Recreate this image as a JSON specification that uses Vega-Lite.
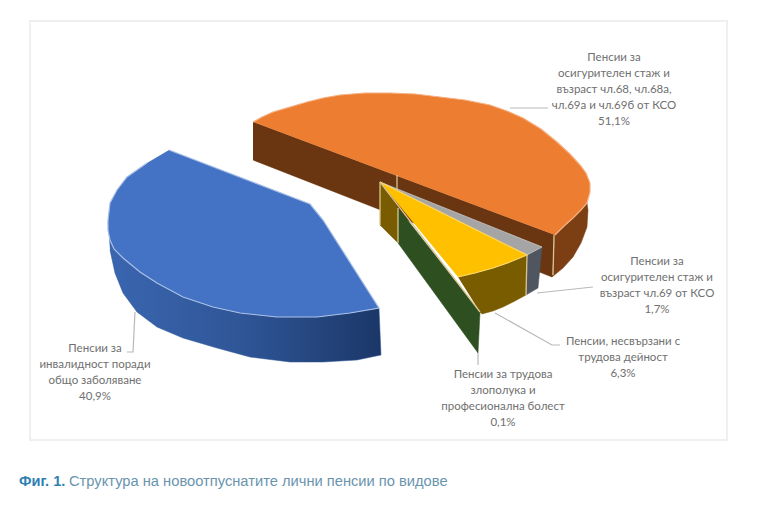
{"$schema":"https://vega.github.io/schema/vega-lite/v6.json","autosize":{"type":"fit","contains":"padding"},"width":761,"height":515,"padding":0,"background":"#ffffff","view":{"stroke":null},
"datasets":{
"frame":[{"x1":30,"x2":727,"y1":21,"y2":440}],
"blueSide":[{"x":108,"y":222,"o":1},{"x":110,"y":240,"o":2},{"x":123,"y":258,"o":3},{"x":140,"y":272,"o":4},{"x":157,"y":283,"o":5},{"x":183,"y":297,"o":6},{"x":213,"y":307,"o":7},{"x":240,"y":313,"o":8},{"x":277,"y":317,"o":9},{"x":317,"y":317,"o":10},{"x":350,"y":313,"o":11},{"x":379,"y":308,"o":12},{"x":381,"y":355,"o":13},{"x":357,"y":360,"o":14},{"x":323,"y":362,"o":15},{"x":290,"y":362,"o":16},{"x":250,"y":357,"o":17},{"x":217,"y":348,"o":18},{"x":183,"y":338,"o":19},{"x":157,"y":327,"o":20},{"x":137,"y":312,"o":21},{"x":123,"y":293,"o":22},{"x":115,"y":273,"o":23},{"x":110,"y":250,"o":24}],
"blueTop":[{"x":169,"y":150,"o":1},{"x":310,"y":204,"o":2},{"x":323,"y":220,"o":3},{"x":379,"y":308,"o":4},{"x":350,"y":313,"o":5},{"x":317,"y":317,"o":6},{"x":277,"y":317,"o":7},{"x":240,"y":313,"o":8},{"x":213,"y":307,"o":9},{"x":183,"y":297,"o":10},{"x":157,"y":283,"o":11},{"x":140,"y":272,"o":12},{"x":123,"y":258,"o":13},{"x":114,"y":249,"o":14},{"x":110,"y":240,"o":15},{"x":108,"y":230,"o":16},{"x":108,"y":220,"o":17},{"x":110,"y":203,"o":18},{"x":117,"y":190,"o":19},{"x":127,"y":177,"o":20},{"x":147,"y":163,"o":21}],
"orangeFront":[{"x":253,"y":122,"o":1},{"x":555,"y":235,"o":2},{"x":552,"y":277,"o":3},{"x":253,"y":160,"o":4}],
"orangeOuter":[{"x":555,"y":235,"o":1},{"x":573,"y":218,"o":2},{"x":587,"y":203,"o":3},{"x":588,"y":210,"o":4},{"x":587,"y":227,"o":5},{"x":581,"y":243,"o":6},{"x":573,"y":257,"o":7},{"x":563,"y":268,"o":8},{"x":552,"y":277,"o":9}],
"orangeTop":[{"x":253,"y":122,"o":1},{"x":262,"y":117,"o":2},{"x":273,"y":112,"o":3},{"x":290,"y":107,"o":4},{"x":307,"y":102,"o":5},{"x":323,"y":98,"o":6},{"x":340,"y":95,"o":7},{"x":365,"y":93,"o":8},{"x":390,"y":93,"o":9},{"x":415,"y":94,"o":10},{"x":440,"y":97,"o":11},{"x":465,"y":100,"o":12},{"x":490,"y":105,"o":13},{"x":507,"y":111,"o":14},{"x":523,"y":118,"o":15},{"x":541,"y":129,"o":16},{"x":557,"y":142,"o":17},{"x":570,"y":154,"o":18},{"x":580,"y":165,"o":19},{"x":586,"y":173,"o":20},{"x":590,"y":183,"o":21},{"x":590,"y":192,"o":22},{"x":587,"y":203,"o":23},{"x":581,"y":210,"o":24},{"x":573,"y":218,"o":25},{"x":564,"y":226,"o":26},{"x":555,"y":235,"o":27}],
"brownLeft":[{"x":380,"y":182,"o":1},{"x":398,"y":208,"o":2},{"x":398,"y":243,"o":3},{"x":380,"y":225,"o":4}],
"grayTop":[{"x":380,"y":182,"o":1},{"x":542,"y":247,"o":2},{"x":527,"y":255,"o":3}],
"graySide":[{"x":527,"y":255,"o":1},{"x":542,"y":247,"o":2},{"x":538,"y":288,"o":3},{"x":526,"y":295,"o":4}],
"yellowSide":[{"x":458,"y":277,"o":1},{"x":475,"y":273,"o":2},{"x":493,"y":268,"o":3},{"x":510,"y":262,"o":4},{"x":527,"y":255,"o":5},{"x":526,"y":295,"o":6},{"x":515,"y":301,"o":7},{"x":503,"y":307,"o":8},{"x":493,"y":311,"o":9},{"x":482,"y":314,"o":10},{"x":480,"y":312,"o":11}],
"yellowTop":[{"x":380,"y":182,"o":1},{"x":527,"y":255,"o":2},{"x":510,"y":262,"o":3},{"x":493,"y":268,"o":4},{"x":475,"y":273,"o":5},{"x":458,"y":277,"o":6}],
"greenSide":[{"x":398,"y":208,"o":1},{"x":480,"y":312,"o":2},{"x":478,"y":353,"o":3},{"x":398,"y":243,"o":4}],
"seams":[{"s":"a","x":397,"y":175,"o":1},{"s":"a","x":397,"y":190,"o":2},{"s":"b","x":554,"y":235,"o":1},{"s":"b","x":553,"y":275,"o":2},{"s":"c","x":398,"y":208,"o":1},{"s":"c","x":398,"y":243,"o":2},{"s":"d","x":380,"y":182,"o":1},{"s":"d","x":480,"y":312,"o":2},{"s":"e","x":527,"y":255,"o":1},{"s":"e","x":526,"y":295,"o":2},{"s":"f","x":380,"y":182,"o":1},{"s":"f","x":380,"y":225,"o":2}],
"leaders":[{"s":"orange","x":510,"y":108,"o":1},{"s":"orange","x":548,"y":108,"o":2},{"s":"blue","x":135,"y":312,"o":1},{"s":"blue","x":133,"y":352,"o":2},{"s":"blue","x":127,"y":352,"o":3},{"s":"gray","x":537,"y":293,"o":1},{"s":"gray","x":593,"y":287,"o":2},{"s":"yellow","x":495,"y":313,"o":1},{"s":"yellow","x":552,"y":345,"o":2},{"s":"yellow","x":560,"y":345,"o":3},{"s":"green","x":478,"y":353,"o":1},{"s":"green","x":478,"y":365,"o":2}],
"labels":[{"t":"Пенсии за\nосигурителен стаж и\nвъзраст чл.68, чл.68а,\nчл.69а и чл.69б от КСО\n51,1%","x":614,"y":52},{"t":"Пенсии за\nинвалидност поради\nобщо заболяване\n40,9%","x":95,"y":343},{"t":"Пенсии за\nосигурителен стаж и\nвъзраст чл.69 от КСО\n1,7%","x":657,"y":256},{"t":"Пенсии, несвързани с\nтрудова дейност\n6,3%","x":623,"y":336},{"t":"Пенсии за трудова\nзлополука и\nпрофесионална болест\n0,1%","x":503,"y":369}]
},
"encoding":{"x":{"field":"x","type":"quantitative","scale":{"domain":[0,761]},"axis":null},"y":{"field":"y","type":"quantitative","scale":{"domain":[515,0]},"axis":null},"order":{"field":"o","type":"quantitative"}},
"layer":[
{"data":{"name":"frame"},"mark":{"type":"rect","fill":"#ffffff","stroke":"#efefef","strokeWidth":2},"encoding":{"x":{"field":"x1","type":"quantitative","scale":{"domain":[0,761]},"axis":null},"x2":{"field":"x2"},"y":{"field":"y1","type":"quantitative","scale":{"domain":[515,0]},"axis":null},"y2":{"field":"y2"},"order":null}},
{"data":{"name":"blueSide"},"mark":{"type":"line","fill":{"gradient":"linear","x1":0,"y1":0,"x2":1,"y2":0,"stops":[{"offset":0,"color":"#3a66b0"},{"offset":0.5,"color":"#2f5596"},{"offset":1,"color":"#1b3768"}]},"stroke":"#2f5596","strokeWidth":0.5}},
{"data":{"name":"blueTop"},"mark":{"type":"line","fill":"#4472c4","stroke":"#a9c0e6","strokeWidth":1.2}},
{"data":{"name":"orangeFront"},"mark":{"type":"line","fill":"#6a3511","stroke":"#6a3511","strokeWidth":0.5}},
{"data":{"name":"orangeOuter"},"mark":{"type":"line","fill":"#7c3e13","stroke":"#7c3e13","strokeWidth":0.5}},
{"data":{"name":"orangeTop"},"mark":{"type":"line","fill":"#ed7d31","stroke":"#f4b183","strokeWidth":1.2}},
{"data":{"name":"brownLeft"},"mark":{"type":"line","fill":"#7a5c00","stroke":"#7a5c00","strokeWidth":0.5}},
{"data":{"name":"graySide"},"mark":{"type":"line","fill":"#4f5660","stroke":"#4f5660","strokeWidth":0.5}},
{"data":{"name":"yellowSide"},"mark":{"type":"line","fill":"#7a5c00","stroke":"#7a5c00","strokeWidth":0.5}},
{"data":{"name":"grayTop"},"mark":{"type":"line","fill":"#a5a5a5","stroke":"#c9c9c9","strokeWidth":0.8}},
{"data":{"name":"yellowTop"},"mark":{"type":"line","fill":"#ffc000","stroke":"#ffd966","strokeWidth":1.2}},
{"data":{"name":"greenSide"},"mark":{"type":"line","fill":"#2e4f20","stroke":"#2e4f20","strokeWidth":0.5}},
{"data":{"name":"seams"},"mark":{"type":"line","stroke":"#d9c48f","strokeWidth":1.3},"encoding":{"detail":{"field":"s"}}},
{"data":{"name":"leaders"},"mark":{"type":"line","stroke":"#b9b9b9","strokeWidth":1.2},"encoding":{"detail":{"field":"s"}}},
{"data":{"name":"labels"},"mark":{"type":"text","font":"Lato","fontSize":11.5,"color":"#707070","align":"center","baseline":"top","lineBreak":"\n","lineHeight":16},"encoding":{"text":{"field":"t"},"order":null}},
{"data":{"values":[{"t":"Фиг. 1.","x":19,"y":482}]},"mark":{"type":"text","font":"Liberation Sans","fontSize":14.6,"fontWeight":"bold","color":"#2f7fb5","align":"left","baseline":"middle"},"encoding":{"text":{"field":"t"},"order":null}},
{"data":{"values":[{"t":"Структура на новоотпуснатите лични пенсии по видове","x":69,"y":482}]},"mark":{"type":"text","font":"Liberation Sans","fontSize":14.7,"color":"#6a94ae","align":"left","baseline":"middle"},"encoding":{"text":{"field":"t"},"order":null}}
]}
